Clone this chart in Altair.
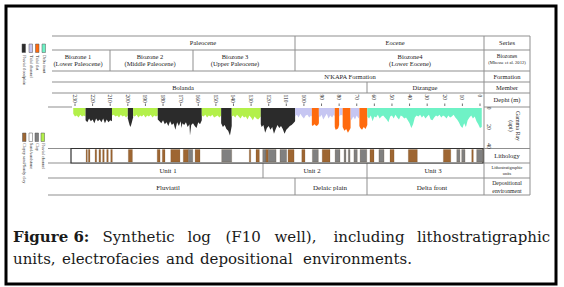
import altair as alt
import pandas as pd

# ---------------- data ----------------
DEPTH_TICKS = [230, 220, 210, 200, 190, 180, 170, 160, 150, 140, 130, 120,
               110, 100, 90, 80, 70, 60, 50, 40, 30, 20, 10, 0]
GR_TICKS = [0, 20, 40]

FACIES = ["Fluvial floodplain", "Tidal channel", "Tidal flat", "Delta front", "Fluvial channel"]
FACIES_COLORS = ["#2b2b2b", "#c6c6f2", "#ff6a0d", "#6ff2c6", "#b3f04a"]

SEG_FACIES = ["Fluvial channel", "Fluvial floodplain", "Fluvial channel", "Fluvial floodplain",
              "Fluvial channel", "Fluvial floodplain", "Fluvial channel", "Fluvial floodplain",
              "Fluvial channel", "Fluvial floodplain", "Tidal channel", "Tidal flat",
              "Tidal channel", "Tidal flat", "Tidal channel", "Tidal flat",
              "Tidal channel", "Tidal flat", "Delta front"]

SEG_DEPTH = [
    [231, 230, 229, 228, 227, 226, 225, 224],
    [224, 223, 222, 221, 220, 219, 218, 217, 216, 215, 214, 213, 212, 211, 210, 209],
    [209, 208, 207, 206, 205, 204, 203, 202, 201, 200],
    [200, 199, 198.5, 198, 197],
    [197, 196, 195, 194, 193, 192, 191, 190, 189, 188, 187, 186, 185, 184, 183],
    [183, 182, 181, 180, 179, 178, 177, 176, 175, 174, 173, 172, 171, 170, 169.5, 169, 168,
     167, 166, 165, 164.7, 164, 163, 162, 161, 160, 159, 158],
    [158, 157, 156, 155, 154, 153, 152, 151, 150, 149, 148, 147],
    [147, 146, 145, 144, 143, 142, 141],
    [141, 140, 139, 138, 137, 136, 135, 134, 133, 132, 131, 130, 129, 128, 127, 126, 125, 124.5],
    [124.5, 124, 123, 122, 121, 120, 119, 118, 117, 116, 115, 114, 113, 112, 111, 110, 109,
     108, 107, 106, 105],
    [105, 104, 103, 102, 101, 100, 99, 98, 97, 96, 95.5],
    [95.5, 95, 94, 93, 92, 91.5],
    [91.5, 91, 90, 89, 88, 87, 86, 85, 84, 83, 82.5],
    [82.5, 82, 81, 80.5, 80],
    [80, 79, 78],
    [78, 77, 76, 75, 74, 73.5],
    [73.5, 73, 72, 71, 70, 69, 68.5],
    [68.5, 68, 67, 66, 65, 64],
    [64, 63, 62, 61, 60, 59, 58, 57, 56, 55, 54, 53, 52, 51, 50, 49, 48, 47, 46, 45, 44, 43,
     42, 41, 40, 39, 38, 37, 36, 35, 34, 33, 32, 31, 30, 29, 28, 27, 26, 25, 24, 23, 22, 21,
     20, 19, 18, 17, 16, 15, 14, 13, 12, 11, 10, 9, 8, 7, 6, 5, 4, 3, 2, 1, 0, -1],
]
SEG_GR = [
    [6, 9, 8, 10, 7, 9, 8, 9],
    [13, 15, 11, 14, 12, 16, 11, 14, 12, 15, 11, 16, 12, 15, 13, 14],
    [8, 7, 9, 8, 10, 7, 9, 8, 10, 8],
    [11, 18, 20, 17, 10],
    [8, 9, 7, 10, 8, 9, 7, 10, 8, 9, 7, 10, 8, 9, 8],
    [12, 14, 16, 13, 17, 15, 19, 14, 18, 16, 23, 15, 19, 14, 21, 16, 18, 15, 20, 17, 29, 18,
     16, 19, 21, 15, 17, 13],
    [8, 9, 7, 10, 8, 9, 7, 10, 9, 8, 10, 8],
    [16, 20, 18, 22, 24, 29, 19],
    [9, 8, 10, 7, 9, 11, 8, 10, 9, 12, 8, 10, 13, 9, 11, 12, 10, 9],
    [17, 20, 18, 26, 21, 19, 23, 20, 27, 22, 18, 21, 19, 22, 27, 23, 21, 19, 18, 16, 14],
    [9, 7, 10, 6, 9, 11, 8, 7, 10, 8, 9],
    [18, 19, 17, 19, 18, 16],
    [8, 10, 7, 12, 9, 6, 11, 8, 10, 7, 9],
    [20, 23, 22, 21, 18],
    [9, 7, 8],
    [20, 24, 22, 26, 23, 21],
    [10, 13, 9, 12, 8, 11, 9],
    [19, 21, 23, 20, 22, 18],
    [9, 11, 8, 14, 9, 10, 7, 11, 9, 8, 10, 12, 15, 9, 8, 11, 7, 10, 12, 8, 9, 11, 10, 13,
     16, 21, 17, 10, 8, 9, 7, 10, 8, 11, 9, 7, 12, 13, 10, 8, 9, 7, 10, 8, 9, 11, 8, 10, 9,
     7, 10, 12, 15, 19, 21, 16, 20, 13, 10, 8, 11, 9, 14, 17, 21, 20],
]

LITH_TYPES = ["Clayey sand/Sandy clay", "Sand/sandstone", "Clay"]
LITH_COLORS = ["#9e6632", "#ffffff", "#808080"]
LITH_TOP = [223.7, 222.4, 218.6, 216.4, 214.3, 212.0, 209.7, 199.7, 183.3, 180.4, 175.6,
            168.5, 165.6, 161.8, 146.7, 131.0, 127.2, 123.4, 121.5, 120.2, 113.6, 109.0,
            101.2, 95.2, 89.6, 82.3, 77.2, 74.8, 71.6, 68.1, 62.5, 57.4, 51.1, 40.7, 20.8,
            13.2, 10.4, 4.7, 1.9]
LITH_BASE = [223.0, 221.5, 217.7, 215.4, 213.4, 211.1, 208.8, 197.4, 181.7, 178.9, 170.4,
             165.6, 163.1, 159.0, 141.0, 130.2, 125.3, 121.5, 120.2, 115.8, 109.8, 105.6,
             99.4, 91.8, 85.2, 79.5, 76.1, 73.8, 69.7, 64.3, 60.2, 54.5, 48.8, 35.6, 16.6,
             11.4, 8.5, 3.8, -1.7]
LITH_KIND = ["Clayey sand/Sandy clay"] * 12 + ["Clay", "Clayey sand/Sandy clay", "Clay",
             "Clayey sand/Sandy clay", "Clayey sand/Sandy clay", "Clay", "Clayey sand/Sandy clay",
             "Clay", "Clay", "Clayey sand/Sandy clay", "Clayey sand/Sandy clay", "Clay",
             "Clayey sand/Sandy clay", "Clay", "Clay", "Clay", "Clay", "Clay",
             "Clayey sand/Sandy clay", "Clay", "Clayey sand/Sandy clay", "Clayey sand/Sandy clay",
             "Clayey sand/Sandy clay", "Clay", "Clay", "Clayey sand/Sandy clay", "Clay"]

CAPTION_BOLD = ["Figure 6:"]
CAPTION_L1 = ["Synthetic", "log", "(F10", "well),", "including", "lithostratigraphic"]
CAPTION_L2 = ["units,", "electrofacies", "and", "depositional", "environments."]

# ---------------- layout (pixel frame of the figure) ----------------
PX = alt.Scale(domain=[0, 564], range=[0, 564], nice=False, zero=False)
PY = alt.Scale(domain=[0, 287], range=[0, 287], nice=False, zero=False)
DEPTH = alt.Scale(domain=[230, 0], range=[75, 480], nice=False, zero=False)
GRS = alt.Scale(domain=[0, 40], range=[108, 146], nice=False, zero=False)
SERIF = "Liberation Serif"

H_LINES = pd.DataFrame([(52, 530, 36), (52, 530, 50), (52, 530, 71), (52, 530, 82),
                        (52, 530, 93), (48, 72, 107), (484, 530, 107), (48, 530, 148.5),
                        (48, 530, 163), (48, 530, 178), (48, 530, 195)],
                       columns=["x", "x2", "y"])
V_LINES = pd.DataFrame([(295, 36, 71), (110, 50, 71), (193, 50, 71), (367, 82, 93),
                        (484, 36, 195), (530, 36, 195), (263, 163, 178), (367, 163, 195),
                        (295, 178, 195)], columns=["x", "y", "y2"])

LABELS = pd.DataFrame([
    ("Paleocene", 203, 43, 6.5), ("Eocene", 395, 43, 6.5), ("Series", 507, 43, 6.5),
    ("Biozone 1", 78, 57, 6.5), ("(Lower Paleocene)", 78, 64, 6.5),
    ("Biozone 2", 150, 57, 6.5), ("(Middle Paleocene)", 150, 64, 6.5),
    ("Biozone 3", 235, 57, 6.5), ("(Upper Paleocene)", 235, 64, 6.5),
    ("Biozone4", 410, 57, 6.5), ("(Lower Eocene)", 410, 64, 6.5),
    ("Biozones", 507, 56, 5.5), ("(Mbesse et al. 2012)", 507, 63, 4.6),
    ("N'KAPA Formation", 350, 76.5, 6.5), ("Formation", 507, 76.5, 6.5),
    ("Bolanda", 183, 88, 6.5), ("Dizangue", 425, 88, 6.5), ("Member", 507, 88, 6.5),
    ("Depht (m)", 507, 100, 6.5), ("Lithology", 507, 156, 6.5),
    ("Lithostratigraphic", 507, 168, 4.3), ("units", 507, 173.5, 4.3),
    ("Depositional", 507, 183, 5.8), ("environment", 507, 190.5, 5.8),
    ("Unit 1", 168, 171, 6.8), ("Unit 2", 312, 171, 6.8), ("Unit 3", 433, 171, 6.8),
    ("Fluviatil", 168, 187.5, 7), ("Delaic plain", 330, 187.5, 7), ("Delta front", 432, 187.5, 7),
], columns=["text", "x", "y", "size"])

ROT_CENTER = pd.DataFrame([("Gamma Ray", 518, 126, 6), ("(api)", 511, 126, 6)],
                          columns=["text", "x", "y", "size"])

ROT_LEFT = pd.DataFrame([
    ("Fluvial floodplain", 23.5, 55, 4.2), ("Tidal channel", 30.5, 55, 4.2),
    ("Tidal flat", 37, 55, 4.2), ("Delta front", 44, 55, 4.2),
    ("Clayey sand/Sandy clay", 24, 143, 4.2), ("Sand/sandstone", 30.5, 143, 4.2),
    ("Clay", 36.5, 143, 4.2), ("Fluvial channel", 43, 143, 4.2),
], columns=["text", "x", "y", "size"])

LEGEND_SQ = pd.DataFrame([
    (22, 25.5, 44, 52.5, "#2b2b2b"), (29, 32.5, 44, 52.5, "#c6c6f2"),
    (35.5, 39, 44, 52.5, "#ff6a0d"), (42, 45.5, 44, 52.5, "#6ff2c6"),
    (22.5, 26, 133, 141.5, "#9e6632"), (29, 32.5, 133, 141.5, "#ffffff"),
    (35, 38.5, 133, 141.5, "#808080"), (41, 44.5, 133, 141.5, "#b3f04a"),
], columns=["x", "x2", "y", "y2", "c"])

CAP1_X = [13]
CAP1B_X = [102.5, 187.5, 225.5, 274.5, 333.5, 417]
CAP2_X = [13, 62, 166, 200, 303]

# ---------------- build tables ----------------
gr_rows = []
for i, (fac, ds, vs) in enumerate(zip(SEG_FACIES, SEG_DEPTH, SEG_GR)):
    for d, v in zip(ds, vs):
        gr_rows.append({"seg": i, "facies": fac, "depth": d, "gr": v, "base": 0})
gr_df = pd.DataFrame(gr_rows)

lith_df = pd.DataFrame({"top": LITH_TOP, "base": LITH_BASE, "kind": LITH_KIND})
tick_df = pd.DataFrame({"depth": DEPTH_TICKS, "label": [str(t) for t in DEPTH_TICKS]})
grt_df = pd.DataFrame({"gr": GR_TICKS, "label": [str(t) for t in GR_TICKS]})

cap_b = pd.DataFrame({"text": CAPTION_BOLD, "x": CAP1_X})
cap_1 = pd.DataFrame({"text": CAPTION_L1, "x": CAP1B_X})
cap_2 = pd.DataFrame({"text": CAPTION_L2, "x": CAP2_X})

# ---------------- layers ----------------
def px(field):
    return alt.X(field, scale=PX, axis=None)

def py(field):
    return alt.Y(field, scale=PY, axis=None)

border = alt.Chart(pd.DataFrame({"x": [6], "x2": [556], "y": [6], "y2": [284]})).mark_rect(
    filled=False, stroke="#000000", strokeWidth=3
).encode(x=px("x:Q"), x2="x2:Q", y=py("y:Q"), y2="y2:Q")

hl = alt.Chart(H_LINES).mark_rule(color="#8f8f8f", strokeWidth=1).encode(
    x=px("x:Q"), x2="x2:Q", y=py("y:Q"))
vl = alt.Chart(V_LINES).mark_rule(color="#8f8f8f", strokeWidth=1).encode(
    x=px("x:Q"), y=py("y:Q"), y2="y2:Q")

gamma = alt.Chart(gr_df).mark_area(interpolate="linear", orient="vertical").encode(
    x=alt.X("depth:Q", scale=DEPTH, axis=None),
    y=alt.Y("gr:Q", scale=GRS, axis=None, stack=None),
    y2=alt.Y2("base:Q"),
    color=alt.Color("facies:N", scale=alt.Scale(domain=FACIES, range=FACIES_COLORS), legend=None),
    detail="seg:N",
)

box = alt.Chart(pd.DataFrame({"x": [71], "x2": [483], "y": [148.5], "y2": [163]})).mark_rect(
    fill="#ffffff", stroke="#333333", strokeWidth=1.2
).encode(x=px("x:Q"), x2="x2:Q", y=py("y:Q"), y2="y2:Q")

lith = alt.Chart(lith_df).mark_rect(strokeWidth=0.4, stroke="#5a3a1a", strokeOpacity=0.5).encode(
    x=alt.X("top:Q", scale=DEPTH, axis=None), x2="base:Q",
    y=alt.value(149.5), y2=alt.value(162),
    color=alt.Color("kind:N", scale=alt.Scale(domain=LITH_TYPES, range=LITH_COLORS), legend=None),
)

ticks_txt = alt.Chart(tick_df).mark_text(
    angle=90, align="left", baseline="middle", font=SERIF, fontSize=5.5, color="#222222"
).encode(x=alt.X("depth:Q", scale=DEPTH, axis=None), y=alt.value(94.5), text="label:N")
ticks_rule = alt.Chart(tick_df).mark_rule(color="#333333", strokeWidth=0.7).encode(
    x=alt.X("depth:Q", scale=DEPTH, axis=None), y=alt.value(103.5), y2=alt.value(106))

gr_txt = alt.Chart(grt_df).mark_text(
    angle=90, align="center", baseline="middle", font=SERIF, fontSize=5.5, color="#222222"
).encode(x=alt.value(489), y=alt.Y("gr:Q", scale=GRS, axis=None), text="label:N")

labels = alt.Chart(LABELS).mark_text(font=SERIF, color="#222222", baseline="middle").encode(
    x=px("x:Q"), y=py("y:Q"), text="text:N", size=alt.Size("size:Q", scale=None))
rot_c = alt.Chart(ROT_CENTER).mark_text(font=SERIF, color="#222222", angle=90,
                                        baseline="middle").encode(
    x=px("x:Q"), y=py("y:Q"), text="text:N", size=alt.Size("size:Q", scale=None))
rot_l = alt.Chart(ROT_LEFT).mark_text(font=SERIF, color="#222222", angle=90, align="left",
                                      baseline="middle").encode(
    x=px("x:Q"), y=py("y:Q"), text="text:N", size=alt.Size("size:Q", scale=None))

legend_sq = alt.Chart(LEGEND_SQ).mark_rect(stroke="#555555", strokeWidth=0.5).encode(
    x=px("x:Q"), x2="x2:Q", y=py("y:Q"), y2="y2:Q", color=alt.Color("c:N", scale=None))

CAP_FONT = "DejaVu Serif"
cap_bold = alt.Chart(cap_b).mark_text(font=CAP_FONT, fontSize=15, fontWeight="bold",
                                      align="left", baseline="alphabetic",
                                      color="#1a1a1a").encode(
    x=px("x:Q"), y=alt.value(242), text="text:N")
cap_line1 = alt.Chart(cap_1).mark_text(font=CAP_FONT, fontSize=15, align="left",
                                       baseline="alphabetic", color="#1a1a1a").encode(
    x=px("x:Q"), y=alt.value(242), text="text:N")
cap_line2 = alt.Chart(cap_2).mark_text(font=CAP_FONT, fontSize=15, align="left",
                                       baseline="alphabetic", color="#1a1a1a").encode(
    x=px("x:Q"), y=alt.value(264), text="text:N")

chart = alt.layer(
    hl, vl, gamma, box, lith, ticks_rule, ticks_txt, gr_txt, labels, rot_c, rot_l,
    legend_sq, cap_bold, cap_line1, cap_line2, border
).resolve_scale(
    x="independent", y="independent", color="independent"
).properties(
    width=564, height=287, padding=0, autosize=alt.AutoSizeParams(type="none"),
    background="#ffffff"
).configure_view(stroke=None)

chart.save("out.html", embed_options={"renderer": "svg", "actions": False})
